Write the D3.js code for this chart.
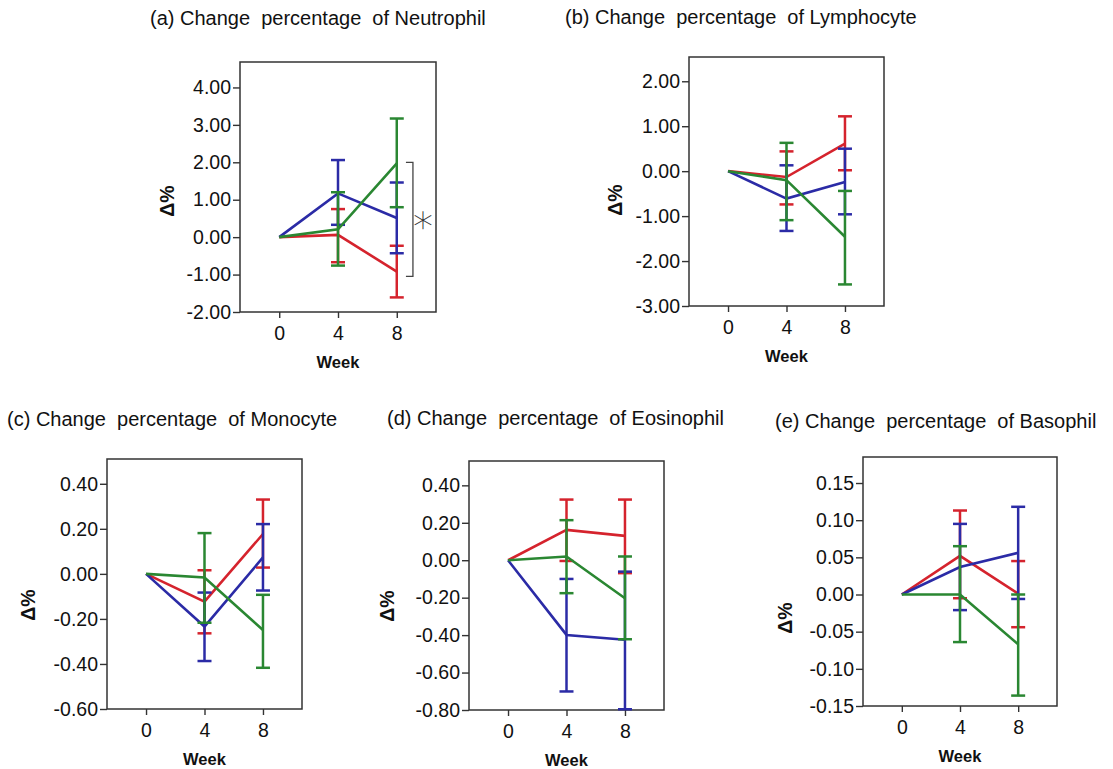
<!DOCTYPE html>
<html>
<head>
<meta charset="utf-8">
<script src="https://cdn.jsdelivr.net/npm/d3@7"></script>
<style>
  html, body { margin: 0; padding: 0; background: #fff; }
  svg { display: block; }
  text { font-family: "Liberation Sans", Arial, sans-serif; fill: #111; }
</style>
</head>
<body>
<svg id="chart" width="1113" height="769"></svg>
<script>
// ---------------- DATA ----------------
const weeks = [0, 4, 8];
const seriesColors = ["#d5232d", "#2b2ba6", "#2a8732"]; // red, blue, green (draw order)

// Neutrophil (a)
const neutrophilMean  = [[0, 0.06, -0.92], [0, 1.17, 0.51], [0, 0.21, 1.97]];
const neutrophilUpper = [[null, 0.75, -0.23], [null, 2.06, 1.46], [null, 1.20, 3.17]];
const neutrophilLower = [[null, -0.67, -1.61], [null, 0.33, -0.43], [null, -0.76, 0.80]];
const neutrophilTicks = [-2, -1, 0, 1, 2, 3, 4];

// Lymphocyte (b)
const lymphocyteMean  = [[0, -0.13, 0.61], [0, -0.61, -0.24], [0, -0.20, -1.46]];
const lymphocyteUpper = [[null, 0.44, 1.22], [null, 0.13, 0.50], [null, 0.63, -0.44]];
const lymphocyteLower = [[null, -0.74, 0.02], [null, -1.33, -0.96], [null, -1.09, -2.52]];
const lymphocyteTicks = [-3, -2, -1, 0, 1, 2];

// Monocyte (c)
const monocyteMean  = [[0, -0.123, 0.177], [0, -0.234, 0.073], [0, -0.016, -0.249]];
const monocyteUpper = [[null, 0.016, 0.330], [null, -0.083, 0.221], [null, 0.181, -0.093]];
const monocyteLower = [[null, -0.264, 0.028], [null, -0.387, -0.074], [null, -0.217, -0.417]];
const monocyteTicks = [-0.6, -0.4, -0.2, 0, 0.2, 0.4];

// Eosinophil (d)
const eosinophilMean  = [[0, 0.162, 0.130], [0, -0.399, -0.425], [0, 0.020, -0.203]];
const eosinophilUpper = [[null, 0.324, 0.324], [null, -0.100, -0.061], [null, 0.214, 0.020]];
const eosinophilLower = [[null, -0.004, -0.069], [null, -0.701, -0.796], [null, -0.176, -0.422]];
const eosinophilTicks = [-0.8, -0.6, -0.4, -0.2, 0, 0.2, 0.4];

// Basophil (e)
const basophilMean  = [[0, 0.052, 0.001], [0, 0.037, 0.056], [0, 0.000, -0.067]];
const basophilUpper = [[null, 0.113, 0.045], [null, 0.095, 0.118], [null, 0.065, 0.000]];
const basophilLower = [[null, -0.005, -0.044], [null, -0.021, -0.006], [null, -0.064, -0.136]];
const basophilTicks = [-0.15, -0.10, -0.05, 0, 0.05, 0.10, 0.15];

// significance bracket in (a): from value to value at week position
const bracketValues = [2.0, -1.05];
const bracketWeek = 9.1;

const titles = [
  "(a) Change  percentage  of Neutrophil",
  "(b) Change  percentage  of Lymphocyte",
  "(c) Change  percentage  of Monocyte",
  "(d) Change  percentage  of Eosinophil",
  "(e) Change  percentage  of Basophil"
];

// ---------------- LAYOUT ----------------
const panels = [
  { title: titles[0], mean: neutrophilMean, upper: neutrophilUpper, lower: neutrophilLower, ticks: neutrophilTicks,
    domain: [-2, 4.68], box: [240, 62, 196, 250], titleXY: [150, 25], ylabXY: [167, 201] },
  { title: titles[1], mean: lymphocyteMean, upper: lymphocyteUpper, lower: lymphocyteLower, ticks: lymphocyteTicks,
    domain: [-3, 2.54], box: [689, 57, 195, 249], titleXY: [565, 24], ylabXY: [615, 200] },
  { title: titles[2], mean: monocyteMean, upper: monocyteUpper, lower: monocyteLower, ticks: monocyteTicks,
    domain: [-0.6, 0.51], box: [107, 459, 195, 250], titleXY: [7, 426], ylabXY: [28, 605] },
  { title: titles[3], mean: eosinophilMean, upper: eosinophilUpper, lower: eosinophilLower, ticks: eosinophilTicks,
    domain: [-0.8, 0.53], box: [469, 461, 195, 249], titleXY: [387, 425], ylabXY: [387, 606] },
  { title: titles[4], mean: basophilMean, upper: basophilUpper, lower: basophilLower, ticks: basophilTicks,
    domain: [-0.15, 0.185], box: [863, 457, 194, 249], titleXY: [775, 428], ylabXY: [785, 618] }
];

const fmt = d3.formatLocale({ decimal: ".", thousands: ",", grouping: [3], currency: ["", ""], minus: "-" }).format(".2f");
const svg = d3.select("#chart");
svg.append("rect").attr("width", 1113).attr("height", 769).attr("fill", "#fff");

panels.forEach((p, pi) => {
  const [bx, by, bw, bh] = p.box;
  const x = d3.scaleLinear().domain([-2.67, 10.67]).range([bx, bx + bw]);
  const y = d3.scaleLinear().domain(p.domain).range([by + bh, by]);
  const g = svg.append("g");

  // title
  g.append("text")
    .attr("x", p.titleXY[0]).attr("y", p.titleXY[1])
    .style("white-space", "pre")
    .attr("font-size", "20px")
    .text(p.title);

  // y axis
  const yAxis = g.append("g").attr("transform", `translate(${bx},0)`)
    .call(d3.axisLeft(y).tickValues(p.ticks).tickFormat(fmt).tickSize(7).tickSizeOuter(0).tickPadding(2));
  yAxis.select(".domain").remove();
  yAxis.selectAll("line").attr("stroke", "#333").attr("stroke-width", 1.4);
  yAxis.selectAll("text").attr("font-size", "19.5px").attr("fill", "#111")
    .style("font-family", "'Liberation Sans', Arial, sans-serif");

  // x axis
  const xAxis = g.append("g").attr("transform", `translate(0,${by + bh})`)
    .call(d3.axisBottom(x).tickValues(weeks).tickFormat(d3.format("d")).tickSize(6).tickSizeOuter(0).tickPadding(8));
  xAxis.select(".domain").remove();
  xAxis.selectAll("line").attr("stroke", "#333").attr("stroke-width", 1.4);
  xAxis.selectAll("text").attr("font-size", "19.5px").attr("fill", "#111")
    .style("font-family", "'Liberation Sans', Arial, sans-serif");

  // box
  g.append("rect").attr("x", bx).attr("y", by).attr("width", bw).attr("height", bh)
    .attr("fill", "none").attr("stroke", "#333").attr("stroke-width", 1.5);

  // axis titles
  g.append("text")
    .attr("x", x(4))
    .attr("y", by + bh + 56)
    .attr("text-anchor", "middle")
    .attr("font-size", "16.5px").attr("font-weight", "bold")
    .text("Week");
  g.append("text")
    .attr("transform", `translate(${p.ylabXY[0]},${p.ylabXY[1]}) rotate(-90)`)
    .attr("text-anchor", "middle").attr("dominant-baseline", "central")
    .attr("font-size", "19.5px").attr("font-weight", "bold")
    .text("Δ%");

  // series
  const line = d3.line().x((d, i) => x(weeks[i])).y(d => y(d));
  p.mean.forEach((m, si) => {
    const col = seriesColors[si];
    g.append("path").datum(m).attr("d", line)
      .attr("fill", "none").attr("stroke", col).attr("stroke-width", 2.6).attr("stroke-linejoin", "miter");
    const bars = weeks.map((w, i) => ({ w, hi: p.upper[si][i], lo: p.lower[si][i] })).filter(d => d.hi !== null);
    const eb = g.append("g").attr("stroke", col).attr("stroke-width", 2.5);
    eb.selectAll(".v").data(bars).enter().append("line")
      .attr("x1", d => x(d.w)).attr("x2", d => x(d.w))
      .attr("y1", d => y(d.hi)).attr("y2", d => y(d.lo));
    eb.selectAll(".ct").data(bars).enter().append("line")
      .attr("x1", d => x(d.w) - 7).attr("x2", d => x(d.w) + 7)
      .attr("y1", d => y(d.hi)).attr("y2", d => y(d.hi));
    eb.selectAll(".cb").data(bars).enter().append("line")
      .attr("x1", d => x(d.w) - 7).attr("x2", d => x(d.w) + 7)
      .attr("y1", d => y(d.lo)).attr("y2", d => y(d.lo));
  });

  if (pi === 0) {
    const bxp = x(bracketWeek);
    const y1 = y(bracketValues[0]), y2 = y(bracketValues[1]);
    g.append("path")
      .attr("d", `M${bxp - 7},${y1} H${bxp} V${y2} H${bxp - 7}`)
      .attr("fill", "none").attr("stroke", "#444").attr("stroke-width", 1.3);
    g.append("text")
      .attr("x", bxp + 10).attr("y", (y1 + y2) / 2)
      .attr("text-anchor", "middle").attr("dominant-baseline", "central")
      .style("font-family", "'DejaVu Sans', sans-serif")
      .attr("font-size", "40px").attr("font-weight", "200").style("fill", "#333")
      .text("∗");
  }
});
</script>
</body>
</html>
